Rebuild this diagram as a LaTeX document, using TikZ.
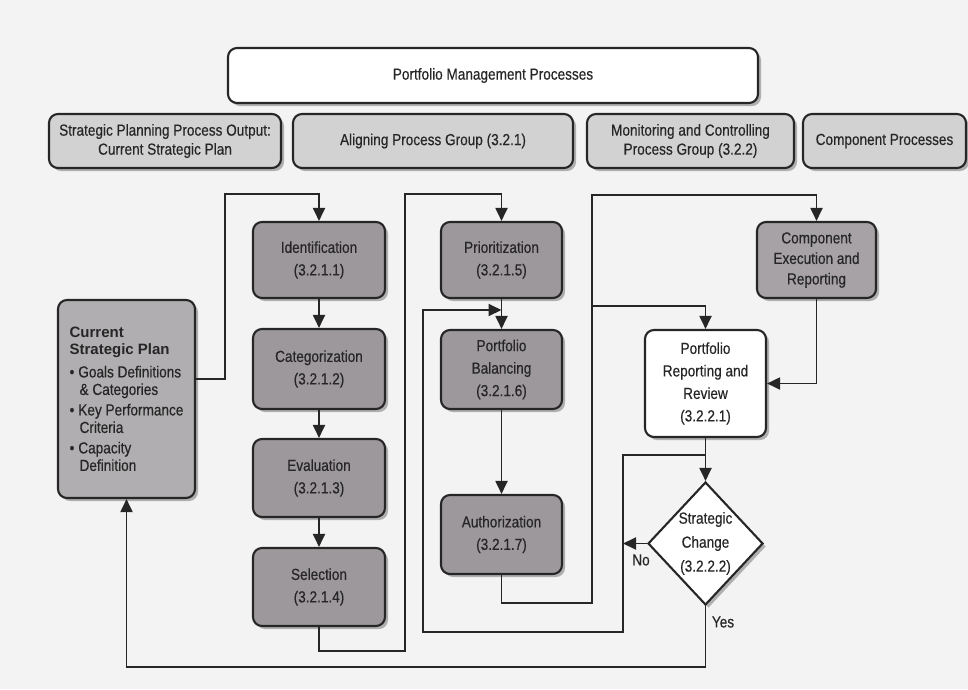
\documentclass[tikz,border=0pt]{standalone}
\usepackage{fontspec}
\setmainfont{Liberation Sans}[FakeStretch=0.85,FakeBold=0.4]
\newfontfamily\headfont{Liberation Sans}
\usetikzlibrary{arrows.meta,shapes.geometric,shadows}
\definecolor{bg}{RGB}{243,243,243}
\definecolor{rowfill}{RGB}{210,210,210}
\definecolor{procfill}{RGB}{156,152,156}
\definecolor{cspfill}{RGB}{176,174,176}
\definecolor{cerfill}{RGB}{166,162,166}
\definecolor{ink}{RGB}{38,38,38}
\tikzset{
  shadowed/.style={drop shadow={shadow xshift=3pt, shadow yshift=-3pt, opacity=0.28, fill=black}},
  basebox/.style={draw=ink, line width=2.1pt, rounded corners=9pt, align=center, inner sep=2pt,
    text=ink, shadowed},
  topbox/.style={basebox, fill=white, font=\fontsize{16}{20}\selectfont},
  rowbox/.style={basebox, fill=rowfill, minimum height=54pt, font=\fontsize{16}{19}\selectfont},
  procbox/.style={basebox, fill=procfill, font=\fontsize{16}{22.5}\selectfont},
  arr/.style={draw=ink, line width=1.9pt, -{Triangle[length=13pt,width=12pt]}},
  lbl/.style={text=ink, font=\fontsize{16}{19}\selectfont, inner sep=1pt}
}
\begin{document}
\begin{tikzpicture}[x=1pt,y=-1pt]
\useasboundingbox (0,0) rectangle (968,689);
\fill[bg] (0,0) rectangle (968,689);

% header boxes
\node[topbox, minimum width=530pt, minimum height=55pt] (top) at (493,75.5) {Portfolio Management Processes};
\node[rowbox, minimum width=232pt] (spp) at (165,141) {Strategic Planning Process Output:\\Current Strategic Plan};
\node[rowbox, minimum width=280pt] (apg) at (433,141) {Aligning Process Group (3.2.1)};
\node[rowbox, minimum width=207pt] (mcp) at (690.5,141) {Monitoring and Controlling\\Process Group (3.2.2)};
\node[rowbox, minimum width=163pt] (cpr) at (884.5,141) {Component Processes};

% current strategic plan
\node[basebox, fill=cspfill, minimum width=137pt, minimum height=198pt, align=left,
      font=\fontsize{16}{17.5}\selectfont] (csp) at (126.5,399)
  {{\headfont\bfseries\fontsize{15}{15.5}\selectfont Current}\\
   {\headfont\bfseries\fontsize{15}{15.5}\selectfont Strategic Plan}\\[5pt]
   \textbullet\hspace{4pt}Goals Definitions\\
   \hspace*{10pt}\& Categories\\[3pt]
   \textbullet\hspace{4pt}Key Performance\\
   \hspace*{10pt}Criteria\\[3pt]
   \textbullet\hspace{4pt}Capacity\\
   \hspace*{10pt}Definition};

% aligning column 1
\node[procbox, minimum width=132pt, minimum height=76pt] (ident) at (319,260) {Identification\\(3.2.1.1)};
\node[procbox, minimum width=132pt, minimum height=80pt] (categ) at (319,369) {Categorization\\(3.2.1.2)};
\node[procbox, minimum width=132pt, minimum height=78pt] (eval) at (319,478) {Evaluation\\(3.2.1.3)};
\node[procbox, minimum width=132pt, minimum height=78pt] (sel) at (319,587) {Selection\\(3.2.1.4)};

% aligning column 2
\node[procbox, minimum width=121pt, minimum height=76pt] (prior) at (501.5,260) {Prioritization\\(3.2.1.5)};
\node[procbox, minimum width=121pt, minimum height=79pt] (bal) at (501.5,369.5) {Portfolio\\Balancing\\(3.2.1.6)};
\node[procbox, minimum width=121pt, minimum height=79pt] (auth) at (501.5,534.5) {Authorization\\(3.2.1.7)};

% monitoring / component
\node[procbox, fill=cerfill, minimum width=119pt, minimum height=76pt,
      font=\fontsize{16}{20.5}\selectfont] (cer) at (816.5,260) {Component\\Execution and\\Reporting};
\node[procbox, fill=white, minimum width=121pt, minimum height=107pt] (prr) at (705.5,383.5) {Portfolio\\Reporting and\\Review\\(3.2.2.1)};
\node[draw=ink, line width=2.1pt, fill=white, shape=diamond, inner sep=0pt, aspect=0.93,
      minimum width=115pt, minimum height=123pt, align=center, text=ink,
      font=\fontsize{16}{24}\selectfont, shadowed] (dia) at (705.5,543.5) {Strategic\\Change\\(3.2.2.2)};

\node[lbl] (nolbl) at (641,560) {No};
\node[lbl] (yeslbl) at (723,622) {Yes};

% bend coordinates
\coordinate (a1) at (225,379);
\coordinate (a2) at (225,194);
\coordinate (s1) at (405,651);
\coordinate (s2) at (405,194);
\coordinate (r1) at (623,455);
\coordinate (r2) at (623,632);
\coordinate (r3) at (423,632);
\coordinate (r4) at (423,310);
\coordinate (u1) at (592,603);
\coordinate (u2) at (592,195);
\coordinate (u3) at (592,306);
\coordinate (y1) at (705.5,667);

% connectors
\draw[arr] (csp.east |- a1) -- (a1) -- (a2) -| (ident.north);
\draw[arr] (ident) -- (categ);
\draw[arr] (categ) -- (eval);
\draw[arr] (eval) -- (sel);
\draw[arr] (sel.south) |- (s1) -- (s2) -| (prior.north);
\draw[arr] (prior) -- (bal);
\draw[arr] (bal) -- (auth);
\draw[arr] (prr.south |- r1) -- (r1) -- (r2) -- (r3) -- (r4) -- (prior.south |- r4);
\draw[arr] (auth.south) |- (u1) -- (u2) -| (cer.north);
\draw[arr] (u3) -| (prr.north);
\draw[arr] (cer.south) |- (prr.east);
\draw[arr] (prr.south) -- (dia.north);
\draw[arr] (dia.west) -- (dia.west -| r1);
\draw[arr] (dia.south) -- (y1) -| (csp.south);
\end{tikzpicture}
\end{document}
